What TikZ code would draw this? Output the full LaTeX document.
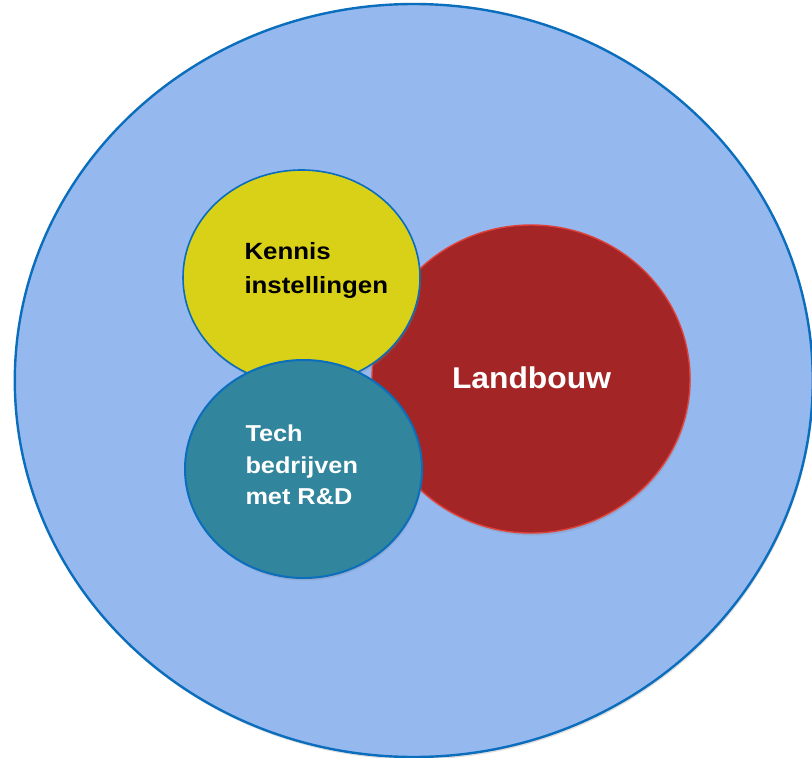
\documentclass[tikz,border=0pt]{standalone}
\usepackage{fontspec}
\setmainfont{Liberation Sans}
\usetikzlibrary{shapes.geometric,shadows}
\definecolor{bigfill}{HTML}{95B8EF}
\definecolor{bluedge}{HTML}{0A6EBD}
\definecolor{kyellow}{HTML}{D9D117}
\definecolor{lred}{HTML}{A32525}
\definecolor{lrededge}{HTML}{E0403A}
\definecolor{tteal}{HTML}{31859C}
\begin{document}
\begin{tikzpicture}[x=1pt,y=-1pt,
  blob/.style={ellipse, inner sep=0pt, outer sep=0pt,
    drop shadow={opacity=0.25, shadow xshift=1pt, shadow yshift=-2.5pt}},
  lbl/.style={inner sep=0pt, outer sep=0pt, font=\bfseries, align=left}]
\useasboundingbox (0,0) rectangle (812,758);
\node[blob, minimum width=798pt, minimum height=753pt, fill=bigfill, draw=bluedge, line width=2.4pt] (big) at (413.8,380.5) {};
\node[blob, minimum width=318pt, minimum height=308pt, fill=lred, draw=lrededge, line width=1.4pt] (land) at (531,379) {};
\node[blob, minimum width=237pt, minimum height=215pt, fill=kyellow, draw=bluedge, line width=1.6pt] (kennis) at (301.5,277.5) {};
\node[blob, minimum width=237pt, minimum height=218pt, fill=tteal, draw=bluedge, line width=2pt] (tech) at (303.5,469) {};
\node[lbl, anchor=west, xscale=1.1, font=\fontsize{23.5}{34}\selectfont\bfseries, text=black] (tk) at (244.5,270) {Kennis\\instellingen};
\node[lbl, anchor=center, xscale=1.06, font=\fontsize{30}{36}\selectfont\bfseries, text=white] (tl) at (531.5,377.5) {Landbouw};
\node[lbl, anchor=west, xscale=1.1, font=\fontsize{23}{31.5}\selectfont\bfseries, text=white] (tt) at (245.5,465) {Tech\\bedrijven\\met R\&D};
\end{tikzpicture}
\end{document}
